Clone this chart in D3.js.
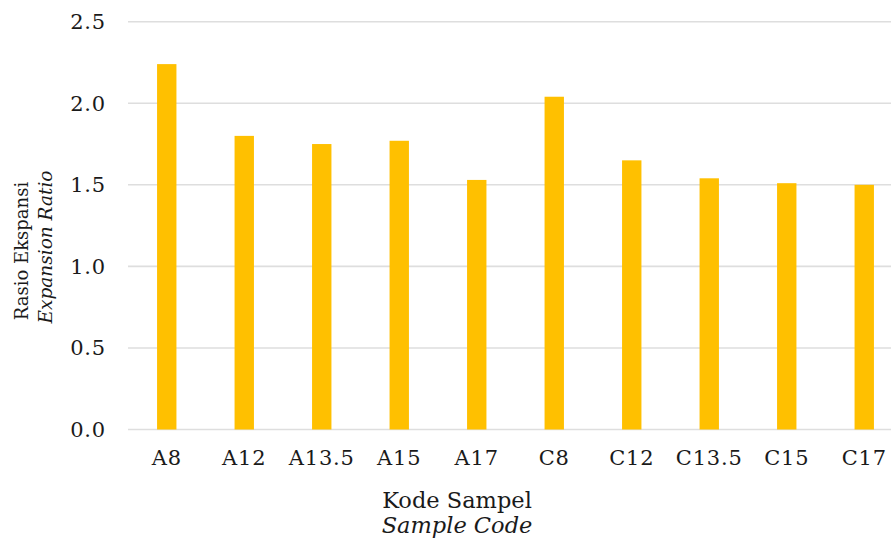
<!DOCTYPE html>
<html><head><meta charset="utf-8">
<script src="https://cdn.jsdelivr.net/npm/d3@7"></script>
<style>body{margin:0;background:#fff;} svg{display:block;} text{font-family:"DejaVu Serif",serif;fill:#1a1a1a;}</style>
</head><body>
<svg id="c" width="891" height="542"></svg>
<script>
const categories = ["A8","A12","A13.5","A15","A17","C8","C12","C13.5","C15","C17"];
const values = [2.24,1.80,1.75,1.77,1.53,2.04,1.65,1.54,1.51,1.50];
const yTicks = [0,0.5,1.0,1.5,2.0,2.5];

const svg = d3.select("#c");
const x = d3.scaleBand().domain(categories).range([128,903]).paddingInner(0.75).paddingOuter(0.375);
const y = d3.scaleLinear().domain([0,2.5]).range([429.5,21.7]);

svg.append("g").selectAll("line").data(yTicks).join("line")
  .attr("x1",128).attr("x2",903).attr("y1",d=>y(d)).attr("y2",d=>y(d))
  .attr("stroke","#dedede").attr("stroke-width",1.6);

svg.append("g").selectAll("rect").data(values).join("rect")
  .attr("x",(d,i)=>x(categories[i])).attr("width",x.bandwidth())
  .attr("y",d=>y(d)).attr("height",d=>y(0)-y(d)).attr("fill","#FFC000");

svg.append("g").selectAll("text").data(yTicks).join("text")
  .attr("x",106).attr("y",d=>y(d)+7.5).attr("text-anchor","end")
  .style("font-size","21px").style("letter-spacing","0.8px")
  .text(d=>d.toFixed(1));

svg.append("g").selectAll("text").data(categories).join("text")
  .attr("x",d=>x(d)+x.bandwidth()/2).attr("y",465).attr("text-anchor","middle")
  .style("font-size","21px").style("letter-spacing","0.8px")
  .text(d=>d);

svg.append("text").attr("x",457).attr("y",508).attr("text-anchor","middle")
  .style("font-size","22.5px").text("Kode Sampel");
svg.append("text").attr("x",457).attr("y",533).attr("text-anchor","middle")
  .style("font-size","22.5px").style("font-style","italic").text("Sample Code");

svg.append("text").attr("transform","translate(27.5,251) rotate(-90)").attr("text-anchor","middle")
  .style("font-size","18px").text("Rasio Ekspansi");
svg.append("text").attr("transform","translate(51.5,247) rotate(-90)").attr("text-anchor","middle")
  .style("font-size","18.5px").style("font-style","italic").text("Expansion Ratio");
</script>
</body></html>
